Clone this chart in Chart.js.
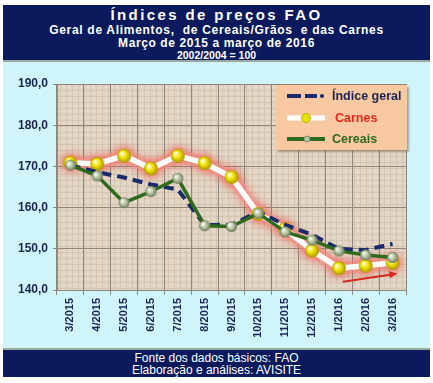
<!DOCTYPE html>
<html>
<head>
<meta charset="utf-8">
<script src="https://cdn.jsdelivr.net/npm/chart.js@4/dist/chart.umd.min.js"></script>
<style>
  html, body { margin: 0; padding: 0; background: #ffffff; }
  body { width: 433px; height: 383px; position: relative; overflow: hidden; font-family: "Liberation Sans", Arial, sans-serif; }
  #bg { position: absolute; left: 3px; top: 62px; width: 427px; height: 286px; background: #cff5fa; }
  #title { position: absolute; left: 3px; top: 5px; width: 427px; height: 57px; background: #0b1a5c; color: #fff; text-align: center; border-bottom: 2px solid #9aa7a0; box-sizing: border-box; }
  #title div { position: absolute; left: 0; width: 100%; font-weight: bold; white-space: nowrap; }
  #t1 { top: 1px; font-size: 15px; letter-spacing: 2.4px; line-height: 18px; }
  #t2 { top: 18px; font-size: 12px; letter-spacing: 0.7px; line-height: 14px; }
  #t3 { top: 31px; font-size: 12px; letter-spacing: 0.6px; line-height: 14px; }
  #t4 { top: 44px; font-size: 10.5px; line-height: 12px; }
  #footer { position: absolute; left: 3px; top: 348px; width: 427px; height: 29px; background: #0b1a5c; color: #fff; text-align: center; font-size: 12px; line-height: 12px; border-top: 2px solid #9aa7a0; box-sizing: border-box; padding-top: 2px; }
  #chart { position: absolute; left: 0; top: 0; }
  #legend { position: absolute; left: 276px; top: 85px; width: 131px; height: 65px; background: #f8c9a0; box-shadow: 2px 2px 2px rgba(120,100,80,0.55); }
  .row { position: absolute; left: 0; height: 18px; width: 100%; }
  .row svg { position: absolute; left: 10px; top: 0; }
  .row span { position: absolute; top: 1px; font-weight: bold; font-size: 12.5px; line-height: 16px; font-family: "Liberation Sans Narrow", "Liberation Sans", Arial, sans-serif; }
</style>
</head>
<body>
<div id="bg"></div>
<div id="title">
  <div id="t1">Índices de preços FAO</div>
  <div id="t2">Geral de Alimentos,&nbsp; de Cereais/Grãos&nbsp; e das Carnes</div>
  <div id="t3">Março de 2015 a março de 2016</div>
  <div id="t4">2002/2004 = 100</div>
</div>
<canvas id="chart" width="433" height="383"></canvas>
<div id="legend">
  <div class="row" style="top:2px">
    <svg width="40" height="18"><line x1="1" y1="9" x2="15" y2="9" stroke="#1b2a6b" stroke-width="4"/><line x1="19" y1="9" x2="31" y2="9" stroke="#1b2a6b" stroke-width="4"/><circle cx="36" cy="9" r="2" fill="#1b2a6b"/></svg>
    <span style="left:56px;color:#1b2452">Índice geral</span>
  </div>
  <div class="row" style="top:24px">
    <svg width="40" height="18"><line x1="1" y1="9" x2="39" y2="9" stroke="#ffffff" stroke-width="5"/><circle cx="20" cy="9" r="4.5" fill="#e8e000" stroke="#b3a600" stroke-width="0.8"/></svg>
    <span style="left:59px;color:#e3261f">Carnes</span>
  </div>
  <div class="row" style="top:45px">
    <svg width="40" height="18"><line x1="1" y1="9" x2="39" y2="9" stroke="#2e6a1c" stroke-width="4"/><circle cx="21" cy="9" r="3" fill="#b7c4a6" stroke="#6e7d5e" stroke-width="0.8"/></svg>
    <span style="left:56px;color:#2e6a1c">Cereais</span>
  </div>
</div>
<div id="footer">Fonte dos dados básicos: FAO<br>Elaboração e análises: AVISITE</div>
<script>
const categories = ['3/2015','4/2015','5/2015','6/2015','7/2015','8/2015','9/2015','10/2015','11/2015','12/2015','1/2016','2/2016','3/2016'];
const indiceGeral = [170.3,168.6,167.3,165.6,164.4,155.8,155.8,159.0,155.8,153.4,150.0,149.7,151.2];
const carnes = [170.9,170.6,172.6,169.5,172.6,170.8,167.4,158.5,154.8,149.6,145.3,145.9,146.6];
const cereais = [170.3,167.7,161.2,163.9,167.1,155.6,155.4,158.6,154.1,152.1,149.5,148.5,147.9];
const yTicks = [140,150,160,170,180,190];
const arrowFrom = { x: '1/2016', y: 142.0 };
const arrowTo = { x: '3/2016', y: 144.0 };

function sphere(r, hi, mid, edge) {
  const c = document.createElement('canvas');
  const s = Math.ceil(2 * r + 2);
  c.width = s; c.height = s;
  const g = c.getContext('2d');
  const cx = s / 2, cy = s / 2;
  const grad = g.createRadialGradient(cx - r * 0.35, cy - r * 0.35, r * 0.1, cx, cy, r);
  grad.addColorStop(0, hi);
  grad.addColorStop(0.45, mid);
  grad.addColorStop(1, edge);
  g.beginPath(); g.arc(cx, cy, r, 0, Math.PI * 2);
  g.fillStyle = grad; g.fill();
  return c;
}
const yellowBall = sphere(7, '#fffde0', '#f2e400', '#a99400');
const grayBall = sphere(5.5, '#f6faf0', '#bccaa9', '#6d7b5d');

function texture() {
  const c = document.createElement('canvas');
  c.width = 6; c.height = 6;
  const g = c.getContext('2d');
  g.fillStyle = '#e3d5c3'; g.fillRect(0, 0, 6, 6);
  g.fillStyle = 'rgba(150,130,110,0.16)';
  g.fillRect(0, 0, 6, 1); g.fillRect(0, 0, 1, 6);
  g.fillStyle = 'rgba(255,255,255,0.25)';
  g.fillRect(3, 3, 2, 1);
  return c;
}

const bgPlugin = {
  id: 'plotBg',
  beforeDraw(chart) {
    const { ctx, chartArea: a } = chart;
    ctx.save();
    ctx.fillStyle = ctx.createPattern(texture(), 'repeat');
    ctx.fillRect(a.left, a.top, a.right - a.left, a.bottom - a.top);
    ctx.restore();
  }
};

const glowPlugin = {
  id: 'glow',
  beforeDatasetDraw(chart, args) {
    if (chart.data.datasets[args.index].isGlow) {
      chart.ctx.save();
      chart.ctx.shadowColor = 'rgba(235,70,60,0.85)';
      chart.ctx.shadowBlur = 8;
    }
  },
  afterDatasetDraw(chart, args) {
    if (chart.data.datasets[args.index].isGlow) chart.ctx.restore();
  }
};

const arrowPlugin = {
  id: 'arrow',
  afterDatasetsDraw(chart) {
    const { ctx, scales: { x, y } } = chart;
    const x1 = x.getPixelForValue(categories.indexOf(arrowFrom.x)) + 4;
    const y1 = y.getPixelForValue(arrowFrom.y);
    const x2 = x.getPixelForValue(categories.indexOf(arrowTo.x)) + 5;
    const y2 = y.getPixelForValue(arrowTo.y);
    const ang = Math.atan2(y2 - y1, x2 - x1);
    ctx.save();
    ctx.strokeStyle = '#d42a20'; ctx.fillStyle = '#d42a20';
    ctx.lineWidth = 2;
    ctx.beginPath(); ctx.moveTo(x1, y1); ctx.lineTo(x2 - 6 * Math.cos(ang), y2 - 6 * Math.sin(ang)); ctx.stroke();
    ctx.beginPath();
    ctx.moveTo(x2, y2);
    ctx.lineTo(x2 - 9 * Math.cos(ang - 0.4), y2 - 9 * Math.sin(ang - 0.4));
    ctx.lineTo(x2 - 9 * Math.cos(ang + 0.4), y2 - 9 * Math.sin(ang + 0.4));
    ctx.closePath(); ctx.fill();
    ctx.restore();
  }
};

new Chart(document.getElementById('chart'), {
  type: 'line',
  data: {
    labels: categories,
    datasets: [
      { label: 'Cereais', data: cereais, borderColor: '#2e6a1c', borderWidth: 3.5, pointStyle: grayBall, pointRadius: 5.5, tension: 0, borderJoinStyle: 'round' },
      { label: 'Índice geral', data: indiceGeral, borderColor: '#1b2a6b', borderWidth: 4, borderDash: [10, 6], pointRadius: 0, tension: 0 },
      { label: 'Carnes', data: carnes, borderColor: '#ffffff', borderWidth: 5.5, pointStyle: yellowBall, pointRadius: 7, tension: 0, borderJoinStyle: 'round' },
      { label: 'glow', isGlow: true, data: carnes, borderColor: 'rgba(245,150,140,0.55)', borderWidth: 13, borderCapStyle: 'round', borderJoinStyle: 'round', pointRadius: 9, pointBackgroundColor: 'rgba(245,150,140,0.55)', pointBorderWidth: 0, tension: 0 }
    ]
  },
  options: {
    responsive: false,
    animation: false,
    devicePixelRatio: 1,
    layout: { padding: { left: 0, right: 27, top: 84, bottom: 0 } },
    plugins: { legend: { display: false }, tooltip: { enabled: false } },
    scales: {
      x: {
        offset: true,
        grid: { offset: true, color: '#8d877e', lineWidth: 1, drawTicks: true, tickLength: 5, tickColor: '#8d877e' },
        border: { color: '#8d877e' },
        ticks: { minRotation: 90, maxRotation: 90, autoSkip: false, padding: 3, color: '#1b2452', font: { family: 'Liberation Sans, Arial, sans-serif', size: 11, weight: 'bold' } },
        afterFit(s) { s.height = 93; }
      },
      y: {
        min: 140, max: 190,
        afterBuildTicks(s) { s.ticks = yTicks.map(v => ({ value: v })); },
        grid: { color: '#8d877e', lineWidth: 1, drawTicks: true, tickLength: 4, tickColor: '#8d877e' },
        border: { color: '#8d877e' },
        ticks: { padding: 5, color: '#1b2452', font: { family: 'Liberation Sans, Arial, sans-serif', size: 12, weight: 'bold' }, callback: v => v.toFixed(1).replace('.', ',') },
        afterFit(s) { s.width = 57; }
      }
    }
  },
  plugins: [bgPlugin, glowPlugin, arrowPlugin]
});
</script>
</body>
</html>
